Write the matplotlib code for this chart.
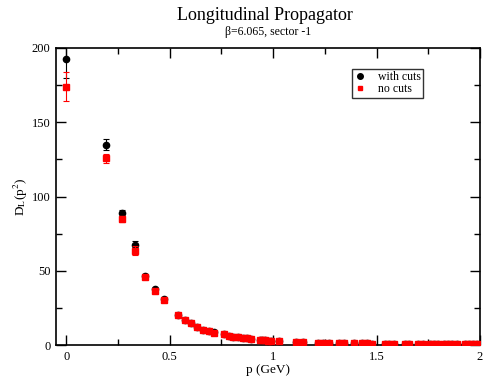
import matplotlib
matplotlib.use("Agg")
import matplotlib.pyplot as plt
from matplotlib.ticker import MultipleLocator
from matplotlib.lines import Line2D

p = [0.0, 0.193, 0.270, 0.332, 0.382, 0.428, 0.470, 0.541, 0.573, 0.604, 0.634,
     0.662, 0.689, 0.715, 0.763, 0.786, 0.808, 0.831, 0.852, 0.873, 0.894, 0.934,
     0.945, 0.961, 0.977, 0.990, 1.026, 1.110, 1.142, 1.219, 1.243, 1.272, 1.317,
     1.343, 1.393, 1.430, 1.453, 1.478, 1.541, 1.562, 1.585, 1.638, 1.659, 1.699,
     1.722, 1.758, 1.778, 1.797, 1.826, 1.845, 1.865, 1.887, 1.928, 1.947, 1.968, 1.984]

with_cuts = [192.6, 134.9, 89.1, 67.3, 46.7, 37.8, 30.8, 20.2, 16.8, 14.8, 12.1,
             10.3, 9.6, 8.5, 7.2, 6.3, 5.6, 5.2, 4.7, 4.5, 3.8, 3.7,
             3.4, 3.2, 3.0, 2.9, 2.5, 2.0, 1.9, 1.6, 1.5, 1.5, 1.3,
             1.3, 1.2, 1.1, 1.1, 1.0, 0.9, 0.9, 0.9, 0.8, 0.8, 0.8,
             0.7, 0.7, 0.7, 0.7, 0.6, 0.6, 0.6, 0.6, 0.5, 0.5, 0.5, 0.5]
with_cuts_err = [13.0, 3.6, 2.0, 2.8, 1.0, 0.8, 0.5] + [0.0] * 49

no_cuts = [174.0, 125.7, 84.6, 63.5, 45.5, 36.7, 30.0, 20.0, 16.6, 14.6, 12.0,
           10.2, 9.5, 8.4, 7.1, 6.2, 5.5, 5.1, 4.6, 4.4, 3.8, 3.7,
           3.4, 3.2, 3.0, 2.9, 2.5, 2.0, 1.9, 1.6, 1.5, 1.5, 1.3,
           1.3, 1.2, 1.1, 1.1, 1.0, 0.9, 0.9, 0.9, 0.8, 0.8, 0.8,
           0.7, 0.7, 0.7, 0.7, 0.6, 0.6, 0.6, 0.6, 0.5, 0.5, 0.5, 0.5]
no_cuts_err = [10.0, 3.0, 2.0, 3.0, 1.0, 0.8, 0.5] + [0.0] * 49

plt.rcParams['font.family'] = ['Liberation Serif', 'DejaVu Serif']
plt.rcParams['mathtext.fontset'] = 'stix'

fig = plt.figure(figsize=(4.87, 3.79), dpi=100)
ax = fig.add_axes([56/487, 1-345/379, (480-56)/487, (345-48)/379])

ax.errorbar(p, with_cuts, yerr=with_cuts_err, fmt='o', color='black', ms=4.5,
            elinewidth=0.8, capsize=2.2, capthick=0.8, zorder=3,
            errorevery=[e > 0 for e in with_cuts_err])
ax.errorbar(p, no_cuts, yerr=no_cuts_err, fmt='s', color='red', ms=4,
            elinewidth=0.8, capsize=2.2, capthick=0.8, zorder=4,
            errorevery=[e > 0 for e in no_cuts_err])

ax.set_xlim(-0.05, 2.0)
ax.set_ylim(0, 200)
ax.xaxis.set_minor_locator(MultipleLocator(0.25))
ax.yaxis.set_major_locator(MultipleLocator(50))
ax.yaxis.set_minor_locator(MultipleLocator(25))
ax.set_xticks([0, 0.5, 1, 1.5, 2])
ax.set_xticklabels(['0', '0.5', '1', '1.5', '2'])
ax.tick_params(which='both', direction='in', top=True, right=True, labelsize=9, width=1)
ax.tick_params(which='major', length=7, pad=4)
ax.tick_params(which='minor', length=4)
for s in ax.spines.values():
    s.set_linewidth(1.2)

ax.set_xlabel('p (GeV)', fontsize=9.5, labelpad=1)
ax.set_ylabel(r'D$_\mathrm{L}$(p$^2$)', fontsize=9.5, labelpad=1)

fig.text(265/487, 1-15/379, 'Longitudinal Propagator', ha='center', va='center', fontsize=13)
fig.text(268/487, 1-32/379, 'β=6.065, sector -1', ha='center', va='center', fontsize=8.5)

handles = [Line2D([], [], ls='none', marker='o', color='black', ms=4),
           Line2D([], [], ls='none', marker='s', color='red', ms=3.5)]
leg = ax.legend(handles, ['with cuts', 'no cuts'], loc='upper left',
                bbox_to_anchor=((352-56)/424, 1-(69-48)/297),
                fontsize=8.5, frameon=True, fancybox=False, edgecolor='black',
                handlelength=1.0, handletextpad=1.0, borderpad=0.2, labelspacing=0.0,
                borderaxespad=0)
leg.get_frame().set_linewidth(1.0)

fig.savefig('out.png', dpi=100)
